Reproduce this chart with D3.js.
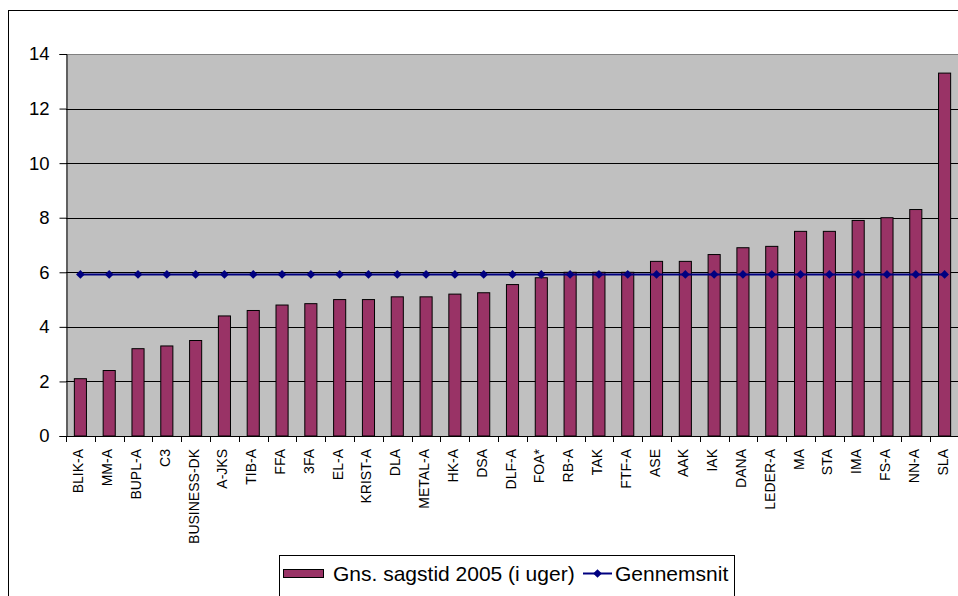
<!DOCTYPE html>
<html>
<head>
<meta charset="utf-8">
<script src="https://cdn.jsdelivr.net/npm/d3@7"></script>
<style>
  html, body { margin: 0; padding: 0; background: #fff; }
  svg { display: block; font-family: Arial, "Liberation Sans", sans-serif; }
</style>
</head>
<body>
<svg id="chart" width="958" height="596"></svg>
<script>
// Unions (a-kasser), sorted by average case time
const categories = ["BLIK-A", "MM-A", "BUPL-A", "C3", "BUSINESS-DK", "A-JKS", "TIB-A", "FFA", "3FA", "EL-A",
  "KRIST-A", "DLA", "METAL-A", "HK-A", "DSA", "DLF-A", "FOA*", "RB-A", "TAK", "FTF-A",
  "ASE", "AAK", "IAK", "DANA", "LEDER-A", "MA", "STA", "IMA", "FS-A", "NN-A", "SLA"];

// Gns. sagstid 2005 (i uger)
const caseWeeks = [2.1, 2.4, 3.2, 3.3, 3.5, 4.4, 4.6, 4.8, 4.85, 5.0,
  5.0, 5.1, 5.1, 5.2, 5.25, 5.55, 5.8, 6.0, 6.0, 6.0,
  6.4, 6.4, 6.65, 6.9, 6.95, 7.5, 7.5, 7.9, 8.0, 8.3, 13.3];

// Gennemsnit
const averageWeeks = [5.92, 5.92, 5.92, 5.92, 5.92, 5.92, 5.92, 5.92, 5.92, 5.92,
  5.92, 5.92, 5.92, 5.92, 5.92, 5.92, 5.92, 5.92, 5.92, 5.92,
  5.92, 5.92, 5.92, 5.92, 5.92, 5.92, 5.92, 5.92, 5.92, 5.92, 5.92];

const yTicks = [0, 2, 4, 6, 8, 10, 12, 14];

const seriesNames = ["Gns. sagstid 2005 (i uger)", "Gennemsnit"];

const svg = d3.select("#chart");

// outer frame
svg.append("rect")
  .attr("x", 8.5).attr("y", 10.5)
  .attr("width", 960).attr("height", 600)
  .attr("fill", "#fff").attr("stroke", "#000").attr("stroke-width", 1);

const plot = { left: 66, right: 959, top: 54, bottom: 436 };

const x = d3.scaleBand()
  .domain(categories)
  .range([plot.left, plot.right])
  .paddingInner(0.58)
  .paddingOuter(0.29);

const y = d3.scaleLinear()
  .domain([0, 14])
  .range([plot.bottom, plot.top]);

// plot background
svg.append("rect")
  .attr("x", plot.left).attr("y", plot.top)
  .attr("width", plot.right - plot.left).attr("height", plot.bottom - plot.top)
  .attr("fill", "#c0c0c0");

// horizontal gridlines
svg.append("g")
  .selectAll("line")
  .data(yTicks.filter(t => t > 0 && t < 14))
  .join("line")
  .attr("x1", plot.left).attr("x2", plot.right)
  .attr("y1", d => Math.round(y(d)) + 0.5).attr("y2", d => Math.round(y(d)) + 0.5)
  .attr("stroke", "#000").attr("stroke-width", 1);

// top border of plot area
svg.append("line")
  .attr("x1", plot.left).attr("x2", plot.right)
  .attr("y1", plot.top + 0.5).attr("y2", plot.top + 0.5)
  .attr("stroke", "#808080").attr("stroke-width", 1);

// bars
svg.append("g")
  .selectAll("rect")
  .data(categories)
  .join("rect")
  .attr("x", (d) => x(d))
  .attr("y", (d, i) => y(caseWeeks[i]))
  .attr("width", x.bandwidth())
  .attr("height", (d, i) => y(0) - y(caseWeeks[i]))
  .attr("fill", "#993366")
  .attr("stroke", "#000")
  .attr("stroke-width", 1);

// y axis
const yAxis = d3.axisLeft(y)
  .tickValues(yTicks)
  .tickSize(7)
  .tickPadding(10)
  .tickFormat(d3.format("d"));

const gy = svg.append("g")
  .attr("transform", `translate(${plot.left + 0.5},0)`)
  .call(yAxis);
gy.select(".domain").attr("stroke", "#000");
gy.selectAll(".tick line").attr("stroke", "#000");
gy.selectAll(".tick text")
  .attr("fill", "#000")
  .style("font-size", "18.5px")
  .style("font-family", "Arial, 'Liberation Sans', sans-serif");

// x axis line and category separators
svg.append("line")
  .attr("x1", plot.left).attr("x2", plot.right)
  .attr("y1", plot.bottom + 0.5).attr("y2", plot.bottom + 0.5)
  .attr("stroke", "#000");

const step = x.step();
svg.append("g")
  .selectAll("line")
  .data(d3.range(categories.length + 1))
  .join("line")
  .attr("x1", i => Math.round(plot.left + i * step) + 0.5)
  .attr("x2", i => Math.round(plot.left + i * step) + 0.5)
  .attr("y1", plot.bottom)
  .attr("y2", plot.bottom + 6)
  .attr("stroke", "#000");

// category labels, rotated
svg.append("g")
  .selectAll("text")
  .data(categories)
  .join("text")
  .attr("transform", d => `translate(${x(d) + x.bandwidth() / 2 + 3},449) rotate(-90)`)
  .attr("text-anchor", "end")
  .style("font-size", "14px")
  .attr("fill", "#000")
  .text(d => d);

// average line with diamond markers
const line = d3.line()
  .x((d, i) => x(categories[i]) + x.bandwidth() / 2)
  .y(d => y(d));

svg.append("path")
  .datum(averageWeeks)
  .attr("d", line)
  .attr("fill", "none")
  .attr("stroke", "#000080")
  .attr("stroke-width", 2);

// diamond marker: a square turned 45 degrees
const diamond = d3.symbol().type(d3.symbolSquare).size(38);
svg.append("g")
  .selectAll("path")
  .data(averageWeeks)
  .join("path")
  .attr("transform", (d, i) => `translate(${x(categories[i]) + x.bandwidth() / 2},${y(d)}) rotate(45)`)
  .attr("d", diamond)
  .attr("fill", "#000080");

// legend
const legend = svg.append("g");
legend.append("rect")
  .attr("x", 279.5).attr("y", 555.5)
  .attr("width", 455).attr("height", 50)
  .attr("fill", "#fff").attr("stroke", "#000");

legend.append("rect")
  .attr("x", 283.5).attr("y", 569.5)
  .attr("width", 40).attr("height", 8)
  .attr("fill", "#993366").attr("stroke", "#000");

legend.append("text")
  .attr("x", 333).attr("y", 581)
  .style("font-size", "21px")
  .attr("fill", "#000")
  .text(seriesNames[0]);

legend.append("line")
  .attr("x1", 583).attr("x2", 612)
  .attr("y1", 573.5).attr("y2", 573.5)
  .attr("stroke", "#000080").attr("stroke-width", 2);

legend.append("path")
  .attr("transform", "translate(597.5,573.5) rotate(45)")
  .attr("d", diamond)
  .attr("fill", "#000080");

legend.append("text")
  .attr("x", 615).attr("y", 581)
  .style("font-size", "21px")
  .attr("fill", "#000")
  .text(seriesNames[1]);
</script>
</body>
</html>
